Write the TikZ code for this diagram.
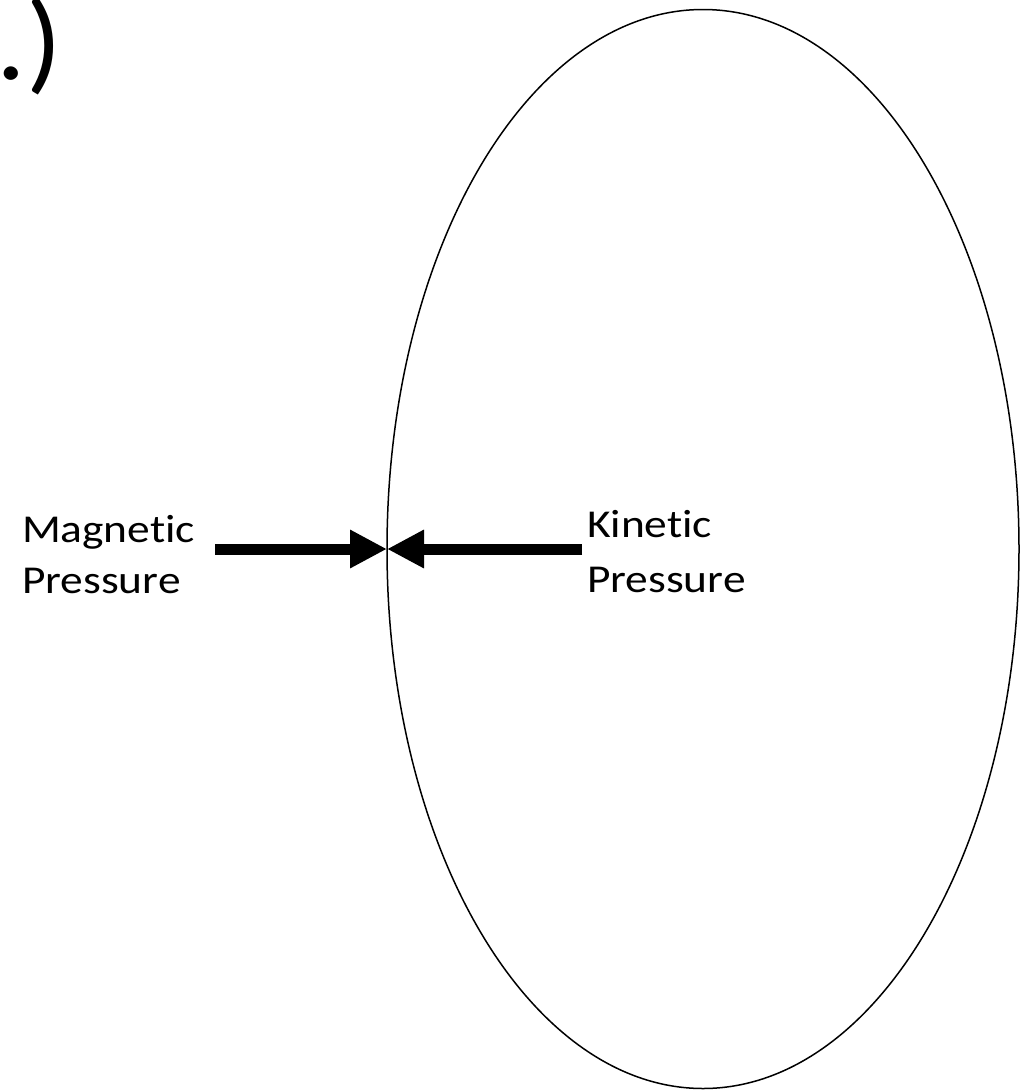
\documentclass[tikz,border=0pt]{standalone}
\usepackage{fontspec}
\setmainfont{Carlito}[Ligatures={NoCommon}]
\usetikzlibrary{arrows.meta,shapes.geometric}
\tikzset{
  lbl/.style={inner sep=0pt, outer sep=0pt, anchor=base west, align=left,
    font=\fontsize{39.5}{51}\selectfont},
  press/.style={line width=11pt, -{Triangle[length=37pt,width=36pt]}, shorten >=0pt},
  outline/.style={draw, line width=1.5pt, ellipse, inner sep=0pt, outer sep=0pt}
}
\begin{document}
\begin{tikzpicture}[x=1pt,y=-1pt]
\useasboundingbox (0,0) rectangle (1020,1090);
\node[outline, minimum width=632pt, minimum height=1079pt] (plasma) at (703,549) {};
\node[inner sep=0pt, anchor=base east, font=\fontsize{112}{120}\selectfont] (title) at (62,79) {\scalebox{1.05}[1]{.)}};
\node[lbl] (mag1) at (22,542) {\scalebox{1.15}[1]{Magnetic}};
\node[lbl] (mag2) at (22,593) {\scalebox{1.15}[1]{Pressure}};
\node[lbl] (kin1) at (587,537) {\scalebox{1.15}[1]{Kinetic}};
\node[lbl] (kin2) at (587,592) {\scalebox{1.15}[1]{Pressure}};
\coordinate (magstart) at (215,549);
\coordinate (kinstart) at (582,549);
\draw[press] (magstart) -- (plasma.west);
\draw[press] (kinstart) -- (plasma.west);
\end{tikzpicture}
\end{document}
